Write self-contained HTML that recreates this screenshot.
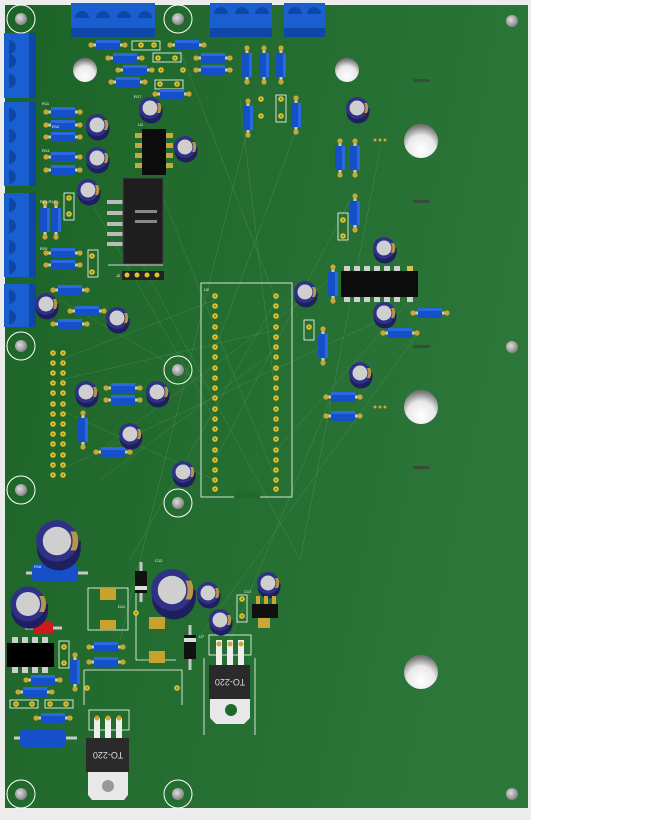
<!DOCTYPE html>
<html><head><meta charset="utf-8"><style>
html,body{margin:0;padding:0;background:#fff;width:662px;height:820px;overflow:hidden}
svg{display:block}
text{font-family:"Liberation Sans",sans-serif}
</style></head><body>
<svg width="662" height="820" viewBox="0 0 662 820" xmlns="http://www.w3.org/2000/svg">
<defs>
<linearGradient id="bg" x1="0" y1="0" x2="1" y2="0.3">
<stop offset="0" stop-color="#1c6327"/><stop offset="1" stop-color="#2c7639"/></linearGradient>
<radialGradient id="hole" cx="0.5" cy="0.75" r="0.7"><stop offset="0" stop-color="#ffffff"/><stop offset="0.6" stop-color="#e8e8e8"/><stop offset="1" stop-color="#777"/></radialGradient>
<radialGradient id="mh" cx="0.4" cy="0.4" r="0.7"><stop offset="0" stop-color="#ddd"/><stop offset="1" stop-color="#777"/></radialGradient>
<g id="rh"><line x1="-17" y1="0" x2="17" y2="0" stroke="#c8c8c8" stroke-width="3"/><circle cx="-17" cy="0" r="2.6" fill="#c9a63a"/><circle cx="17" cy="0" r="2.6" fill="#c9a63a"/><rect x="-12" y="-5" width="24" height="10" rx="2" fill="#1550c8"/><rect x="-12" y="-5" width="24" height="3" fill="#2a6ae0"/></g>
<g id="rv"><use href="#rh" transform="rotate(90)"/></g>
<g id="cs"><circle cx="1" cy="4" r="11.5" fill="#1e1f5e"/><rect x="-10.5" y="0" width="23" height="4" fill="#1e1f5e"/><circle cx="0" cy="0" r="11" fill="#2e3185"/><circle cx="0" cy="0" r="7.5" fill="#cfcfcf"/><path d="M7,-5 A11,11 0 0 1 7,5 L10,5 A11,11 0 0 0 10,-5Z" fill="#b8954a"/></g>
<g id="mt"><circle r="14" fill="none" stroke="#fff" stroke-width="1"/><circle r="6" fill="url(#mh)"/></g>
<g id="pad"><circle r="2.8" fill="#e0c22e"/><circle r="1" fill="#8a7a20"/></g>
</defs>

<rect x="0" y="0" width="662" height="820" fill="#fff"/>
<rect x="0" y="0" width="531" height="820" fill="#ececec"/>
<rect x="5" y="5" width="523" height="803" fill="url(#bg)"/>

<!-- ratsnest -->
<g stroke="#6aa26f" stroke-width="0.5" opacity="0.5" fill="none">
<path d="M60,360 L215,300 M60,380 L276,330 M90,200 L215,420 M140,140 L276,480 M300,120 L215,350 M350,200 L215,460 M330,280 L100,450 M240,100 L276,400 M180,50 L276,300 M410,300 L276,450 M380,320 L60,470 M100,480 L276,350 M60,410 L215,480 M140,260 L300,560 M330,400 L230,640 M250,120 L120,640 M380,150 L300,560 M420,330 L190,650 M60,300 L215,390 M130,560 L276,300"/>
</g>

<!-- top terminal blocks -->
<g><rect x="71" y="3" width="84" height="34" fill="#1a5fd0"/><rect x="71" y="28" width="84" height="9" fill="#0f47a8"/>
<path d="M75,18 a7,7 0 0 1 14,0 M96,18 a7,7 0 0 1 14,0 M117,18 a7,7 0 0 1 14,0 M138,18 a7,7 0 0 1 14,0" fill="#0f47a8"/></g>
<g><rect x="210" y="3" width="62" height="34" fill="#1a5fd0"/><rect x="210" y="28" width="62" height="9" fill="#0f47a8"/>
<path d="M214,14 a7,7 0 0 1 14,0 M235,14 a7,7 0 0 1 14,0 M255,14 a7,7 0 0 1 14,0" fill="#0f47a8"/></g>
<g><rect x="284" y="3" width="41" height="34" fill="#1a5fd0"/><rect x="284" y="28" width="41" height="9" fill="#0f47a8"/>
<path d="M288,14 a7,7 0 0 1 14,0 M307,14 a7,7 0 0 1 14,0" fill="#0f47a8"/></g>
<!-- left terminals -->
<g fill="#1a5fd0">
<rect x="4" y="33" width="32" height="65"/><rect x="4" y="102" width="32" height="84"/><rect x="4" y="193" width="32" height="84"/><rect x="4" y="284" width="32" height="43"/></g>
<g fill="#0f47a8"><rect x="29" y="33" width="7" height="65"/><rect x="29" y="102" width="7" height="84"/><rect x="29" y="193" width="7" height="84"/><rect x="29" y="284" width="7" height="43"/>
<path d="M9,40 a7,7 0 0 1 0,14 M9,54 a7,7 0 0 1 0,14 M9,74 a7,7 0 0 1 0,14 M9,108 a7,7 0 0 1 0,14 M9,129 a7,7 0 0 1 0,14 M9,150 a7,7 0 0 1 0,14 M9,170 a7,7 0 0 1 0,14 M9,198 a7,7 0 0 1 0,14 M9,219 a7,7 0 0 1 0,14 M9,240 a7,7 0 0 1 0,14 M9,260 a7,7 0 0 1 0,14 M9,290 a7,7 0 0 1 0,14 M9,310 a7,7 0 0 1 0,14"/></g>

<!-- mounting holes -->
<use href="#mt" x="21" y="19"/><use href="#mt" x="178" y="19"/><use href="#mt" x="21" y="346"/><use href="#mt" x="178" y="370"/>
<use href="#mt" x="21" y="490"/><use href="#mt" x="178" y="503"/><use href="#mt" x="21" y="794"/><use href="#mt" x="178" y="794"/>
<circle cx="512" cy="21" r="6" fill="url(#mh)"/><circle cx="512" cy="347" r="6" fill="url(#mh)"/><circle cx="512" cy="794" r="6" fill="url(#mh)"/>
<circle cx="85" cy="70" r="12" fill="url(#hole)"/><circle cx="347" cy="70" r="12" fill="url(#hole)"/>
<circle cx="421" cy="141" r="17" fill="url(#hole)"/><circle cx="421" cy="407" r="17" fill="url(#hole)"/><circle cx="421" cy="672" r="17" fill="url(#hole)"/>
<g fill="#3a4a3c"><rect x="413" y="79" width="17" height="3" rx="1.5"/><rect x="413" y="200" width="17" height="3" rx="1.5"/><rect x="413" y="345" width="17" height="3" rx="1.5"/><rect x="413" y="466" width="17" height="3" rx="1.5"/></g>

<!-- silkscreen boxes -->
<g fill="none" stroke="#fff" stroke-width="0.8">
<rect x="132" y="41" width="28" height="9"/><rect x="153" y="53" width="28" height="9"/><rect x="155" y="80" width="28" height="9"/>
<rect x="276" y="95" width="10" height="27"/><rect x="64" y="193" width="10" height="27"/><rect x="88" y="250" width="10" height="27"/>
<rect x="338" y="213" width="10" height="27"/><rect x="304" y="320" width="10" height="20"/><rect x="237" y="595" width="10" height="27"/>
<rect x="59" y="641" width="10" height="27"/><rect x="88" y="588" width="40" height="42"/><rect x="89" y="710" width="40" height="20"/>
<rect x="209" y="635" width="42" height="20"/><rect x="201" y="283" width="91" height="214"/>
<path d="M84,670 L182,670 L182,705 M84,670 L84,705 M204,658 L204,735 M255,658 L255,735 M136,590 L136,660 L176,660"/>
<rect x="10" y="700" width="28" height="8"/><rect x="45" y="700" width="28" height="8"/>
</g>
<rect x="234" y="492" width="26" height="6" fill="#216a2e"/>

<!-- horizontal resistors -->
<g>
<use href="#rh" x="108" y="45"/><use href="#rh" x="187" y="45"/><use href="#rh" x="125" y="58"/><use href="#rh" x="213" y="58"/>
<use href="#rh" x="135" y="70"/><use href="#rh" x="213" y="70"/><use href="#rh" x="128" y="82"/><use href="#rh" x="172" y="94"/>
<use href="#rh" x="63" y="112"/><use href="#rh" x="63" y="125"/><use href="#rh" x="63" y="137"/><use href="#rh" x="63" y="157"/><use href="#rh" x="63" y="170"/>
<use href="#rh" x="63" y="253"/><use href="#rh" x="63" y="265"/><use href="#rh" x="70" y="290"/><use href="#rh" x="87" y="311"/><use href="#rh" x="70" y="324"/>
<use href="#rh" x="123" y="388"/><use href="#rh" x="123" y="400"/><use href="#rh" x="113" y="452"/>
<use href="#rh" x="430" y="313"/><use href="#rh" x="400" y="333"/><use href="#rh" x="343" y="397"/><use href="#rh" x="343" y="416"/>
<use href="#rh" x="106" y="647"/><use href="#rh" x="106" y="662"/><use href="#rh" x="43" y="680"/><use href="#rh" x="35" y="692"/><use href="#rh" x="53" y="718"/>
</g>
<!-- vertical resistors -->
<g>
<use href="#rv" x="247" y="65"/><use href="#rv" x="264" y="65"/><use href="#rv" x="281" y="65"/><use href="#rv" x="248" y="118"/><use href="#rv" x="296" y="115"/>
<use href="#rv" x="340" y="158"/><use href="#rv" x="355" y="158"/><use href="#rv" x="355" y="213"/><use href="#rv" x="333" y="284"/><use href="#rv" x="323" y="346"/>
<use href="#rv" x="45" y="220"/><use href="#rv" x="56" y="220"/><use href="#rv" x="83" y="430"/><use href="#rv" x="75" y="672"/>
</g>
<!-- big resistors -->
<g><line x1="26" y1="573" x2="88" y2="573" stroke="#c8c8c8" stroke-width="3"/><rect x="32" y="564" width="46" height="18" rx="4" fill="#1550c8"/>
<line x1="14" y1="738" x2="77" y2="738" stroke="#c8c8c8" stroke-width="3"/><rect x="20" y="729" width="46" height="18" rx="4" fill="#1550c8"/></g>
<!-- red diode -->
<g><line x1="25" y1="628" x2="62" y2="628" stroke="#c8c8c8" stroke-width="3"/><rect x="33" y="622" width="20" height="12" rx="2" fill="#d01a1a"/></g>
<!-- black diodes -->
<g><line x1="141" y1="562" x2="141" y2="602" stroke="#c8c8c8" stroke-width="3"/><rect x="135" y="571" width="12" height="22" fill="#111"/><rect x="135" y="586" width="12" height="4" fill="#ddd"/>
<line x1="190" y1="625" x2="190" y2="670" stroke="#c8c8c8" stroke-width="3"/><rect x="184" y="635" width="12" height="24" fill="#111"/><rect x="184" y="638" width="12" height="4" fill="#ddd"/></g>

<!-- small caps -->
<g>
<use href="#cs" x="150" y="108"/><use href="#cs" x="97" y="125"/><use href="#cs" x="97" y="158"/><use href="#cs" x="88" y="190"/>
<use href="#cs" x="185" y="147"/><use href="#cs" x="357" y="108"/><use href="#cs" x="384" y="248"/><use href="#cs" x="305" y="292"/>
<use href="#cs" x="384" y="313"/><use href="#cs" x="360" y="373"/><use href="#cs" x="46" y="304"/><use href="#cs" x="117" y="318"/>
<use href="#cs" x="86" y="392"/><use href="#cs" x="157" y="392"/><use href="#cs" x="130" y="434"/><use href="#cs" x="183" y="472"/>
<use href="#cs" x="268" y="583"/><use href="#cs" x="208" y="593"/><use href="#cs" x="220" y="620"/>
<use href="#cs" transform="translate(57,541) scale(1.9)"/><use href="#cs" transform="translate(28,604) scale(1.6)"/><use href="#cs" transform="translate(172,590) scale(1.9)"/>
</g>

<!-- DIP8 top -->
<g fill="#c9a63a"><rect x="135" y="133" width="8" height="5"/><rect x="135" y="143" width="8" height="5"/><rect x="135" y="153" width="8" height="5"/><rect x="135" y="163" width="8" height="5"/>
<rect x="165" y="133" width="8" height="5"/><rect x="165" y="143" width="8" height="5"/><rect x="165" y="153" width="8" height="5"/><rect x="165" y="163" width="8" height="5"/></g>
<rect x="142" y="129" width="24" height="46" fill="#0c0c0c"/>
<!-- header -->
<g fill="#bbb"><rect x="107" y="200" width="18" height="4"/><rect x="107" y="211" width="18" height="4"/><rect x="107" y="222" width="18" height="4"/><rect x="107" y="232" width="18" height="4"/><rect x="107" y="242" width="18" height="4"/></g>
<rect x="123" y="178" width="40" height="86" fill="#1e1e1e"/><rect x="123" y="178" width="40" height="86" fill="none" stroke="#444"/>
<rect x="135" y="210" width="22" height="3" fill="#888"/><rect x="135" y="220" width="22" height="3" fill="#888"/>
<line x1="108" y1="265" x2="163" y2="265" stroke="#fff" stroke-width="0.8"/>
<rect x="122" y="271" width="42" height="9" fill="#222"/>
<g fill="#e0c22e"><circle cx="127" cy="275" r="2.5"/><circle cx="137" cy="275" r="2.5"/><circle cx="147" cy="275" r="2.5"/><circle cx="157" cy="275" r="2.5"/></g>
<!-- DIP14 -->
<g fill="#cfcfcf"><rect x="344" y="266" width="6" height="6"/><rect x="354" y="266" width="6" height="6"/><rect x="364" y="266" width="6" height="6"/><rect x="374" y="266" width="6" height="6"/><rect x="384" y="266" width="6" height="6"/><rect x="394" y="266" width="6" height="6"/><rect x="407" y="266" width="6" height="6" fill="#d8c050"/>
<rect x="344" y="296" width="6" height="6"/><rect x="354" y="296" width="6" height="6"/><rect x="364" y="296" width="6" height="6"/><rect x="374" y="296" width="6" height="6"/><rect x="384" y="296" width="6" height="6"/><rect x="394" y="296" width="6" height="6"/><rect x="407" y="296" width="6" height="6"/></g>
<rect x="341" y="271" width="77" height="26" fill="#0c0c0c"/>
<!-- DIP8 bottom -->
<g fill="#cfcfcf"><rect x="12" y="637" width="6" height="7"/><rect x="22" y="637" width="6" height="7"/><rect x="32" y="637" width="6" height="7"/><rect x="42" y="637" width="6" height="7"/>
<rect x="12" y="667" width="6" height="6"/><rect x="22" y="667" width="6" height="6"/><rect x="32" y="667" width="6" height="6"/><rect x="42" y="667" width="6" height="6"/></g>
<rect x="7" y="643" width="47" height="24" fill="#000"/>

<!-- DIP40 socket pads -->
<g>
<use href="#pad" x="215" y="296"/><use href="#pad" x="215" y="306"/><use href="#pad" x="215" y="316"/><use href="#pad" x="215" y="327"/><use href="#pad" x="215" y="337"/><use href="#pad" x="215" y="347"/><use href="#pad" x="215" y="357"/><use href="#pad" x="215" y="368"/><use href="#pad" x="215" y="378"/><use href="#pad" x="215" y="388"/><use href="#pad" x="215" y="398"/><use href="#pad" x="215" y="409"/><use href="#pad" x="215" y="419"/><use href="#pad" x="215" y="429"/><use href="#pad" x="215" y="439"/><use href="#pad" x="215" y="450"/><use href="#pad" x="215" y="460"/><use href="#pad" x="215" y="470"/><use href="#pad" x="215" y="480"/><use href="#pad" x="215" y="489"/>
<use href="#pad" x="276" y="296"/><use href="#pad" x="276" y="306"/><use href="#pad" x="276" y="316"/><use href="#pad" x="276" y="327"/><use href="#pad" x="276" y="337"/><use href="#pad" x="276" y="347"/><use href="#pad" x="276" y="357"/><use href="#pad" x="276" y="368"/><use href="#pad" x="276" y="378"/><use href="#pad" x="276" y="388"/><use href="#pad" x="276" y="398"/><use href="#pad" x="276" y="409"/><use href="#pad" x="276" y="419"/><use href="#pad" x="276" y="429"/><use href="#pad" x="276" y="439"/><use href="#pad" x="276" y="450"/><use href="#pad" x="276" y="460"/><use href="#pad" x="276" y="470"/><use href="#pad" x="276" y="480"/><use href="#pad" x="276" y="489"/>
</g>
<!-- 2x13 header -->
<g>
<use href="#pad" x="53" y="353"/><use href="#pad" x="53" y="363"/><use href="#pad" x="53" y="373"/><use href="#pad" x="53" y="383"/><use href="#pad" x="53" y="393"/><use href="#pad" x="53" y="404"/><use href="#pad" x="53" y="414"/><use href="#pad" x="53" y="424"/><use href="#pad" x="53" y="434"/><use href="#pad" x="53" y="444"/><use href="#pad" x="53" y="455"/><use href="#pad" x="53" y="465"/><use href="#pad" x="53" y="475"/>
<use href="#pad" x="63" y="353"/><use href="#pad" x="63" y="363"/><use href="#pad" x="63" y="373"/><use href="#pad" x="63" y="383"/><use href="#pad" x="63" y="393"/><use href="#pad" x="63" y="404"/><use href="#pad" x="63" y="414"/><use href="#pad" x="63" y="424"/><use href="#pad" x="63" y="434"/><use href="#pad" x="63" y="444"/><use href="#pad" x="63" y="455"/><use href="#pad" x="63" y="465"/><use href="#pad" x="63" y="475"/>
</g>
<!-- misc pads -->
<g>
<use href="#pad" x="141" y="45"/><use href="#pad" x="154" y="45"/><use href="#pad" x="158" y="58"/><use href="#pad" x="175" y="58"/><use href="#pad" x="161" y="70"/><use href="#pad" x="183" y="70"/><use href="#pad" x="160" y="84"/><use href="#pad" x="177" y="84"/>
<use href="#pad" x="261" y="99"/><use href="#pad" x="261" y="116"/><use href="#pad" x="281" y="99"/><use href="#pad" x="281" y="116"/><use href="#pad" x="69" y="198"/><use href="#pad" x="69" y="214"/><use href="#pad" x="92" y="256"/><use href="#pad" x="92" y="272"/>
<use href="#pad" x="343" y="220"/><use href="#pad" x="343" y="236"/><use href="#pad" x="309" y="327"/><use href="#pad" x="242" y="599"/><use href="#pad" x="242" y="616"/><use href="#pad" x="64" y="647"/><use href="#pad" x="64" y="663"/>
<use href="#pad" x="87" y="688"/><use href="#pad" x="177" y="688"/><use href="#pad" x="136" y="613"/><use href="#pad" x="16" y="704"/><use href="#pad" x="32" y="704"/><use href="#pad" x="50" y="704"/><use href="#pad" x="66" y="704"/>
</g>
<g fill="#c9a63a"><circle cx="375" cy="140" r="1.5"/><circle cx="380" cy="140" r="1.5"/><circle cx="385" cy="140" r="1.5"/><circle cx="375" cy="407" r="1.5"/><circle cx="380" cy="407" r="1.5"/><circle cx="385" cy="407" r="1.5"/></g>

<!-- SMD pads -->
<g fill="#c9a12e"><rect x="100" y="588" width="16" height="12"/><rect x="100" y="620" width="16" height="10"/><rect x="149" y="617" width="16" height="12"/><rect x="149" y="651" width="16" height="12"/></g>

<!-- TO-220 right -->
<g><rect x="216" y="640" width="6" height="25" fill="#eee"/><rect x="227" y="640" width="6" height="25" fill="#eee"/><rect x="238" y="640" width="6" height="25" fill="#eee"/>
<circle cx="219" cy="644" r="2.5" fill="#c9a63a"/><circle cx="230" cy="644" r="2.5" fill="#c9a63a"/><circle cx="241" cy="644" r="2.5" fill="#c9a63a"/>
<path d="M210,698 L250,698 L250,718 L244,724 L216,724 L210,718Z" fill="#e8e8e8"/><circle cx="231" cy="710" r="6" fill="#1f6a2a"/>
<rect x="209" y="665" width="41" height="34" fill="#2a2a2a"/><text x="230" y="685" fill="#ddd" font-size="9" text-anchor="middle" transform="rotate(180 230 682)">TO-220</text></g>
<!-- TO-220 left -->
<g><rect x="94" y="718" width="6" height="22" fill="#eee"/><rect x="105" y="718" width="6" height="22" fill="#eee"/><rect x="116" y="718" width="6" height="22" fill="#eee"/>
<circle cx="97" cy="718" r="2.5" fill="#c9a63a"/><circle cx="108" cy="718" r="2.5" fill="#c9a63a"/><circle cx="119" cy="718" r="2.5" fill="#c9a63a"/>
<path d="M88,772 L128,772 L128,795 L124,800 L92,800 L88,795Z" fill="#e8e8e8"/><circle cx="108" cy="786" r="6" fill="#999"/>
<rect x="86" y="738" width="43" height="34" fill="#2a2a2a"/><text x="108" y="758" fill="#ddd" font-size="9" text-anchor="middle" transform="rotate(180 108 755)">TO-220</text></g>
<!-- SOT small regulator -->
<g><rect x="256" y="596" width="4" height="8" fill="#c9a63a"/><rect x="264" y="596" width="4" height="8" fill="#c9a63a"/><rect x="272" y="596" width="4" height="8" fill="#c9a63a"/>
<rect x="252" y="604" width="26" height="14" fill="#111"/><rect x="258" y="618" width="12" height="10" fill="#c9a63a"/></g>

<!-- labels (small silkscreen) -->
<g fill="#fff" font-size="4">
<text x="42" y="105">R11</text><text x="52" y="128">R12</text><text x="42" y="152">R13</text><text x="40" y="203">R21 R17</text><text x="40" y="250">R20</text>
<text x="138" y="126">U1</text><text x="116" y="277">J2</text><text x="134" y="98">R17</text><text x="204" y="291">U2</text>
<text x="34" y="568">R16</text><text x="118" y="608">D11</text><text x="155" y="562">C12</text><text x="199" y="638">U7</text><text x="244" y="593">C17</text>
</g>
</svg>
</body></html>
